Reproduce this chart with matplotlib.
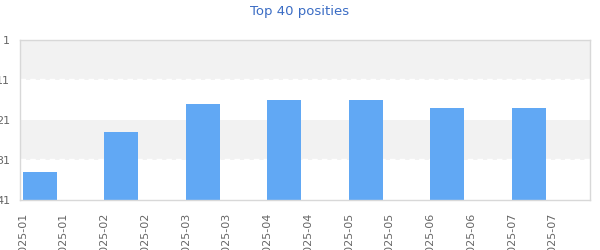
import matplotlib.pyplot as plt
import numpy as np

months = ['2025-01', '2025-02', '2025-03', '2025-04', '2025-05', '2025-06', '2025-07']
positions = [34, 24, 17, 16, 16, 18, 18]
tick_labels = [m for m in months for _ in range(2)]
y_ticks = [1, 11, 21, 31, 41]

fig = plt.figure(figsize=(6, 2.5), dpi=100)
ax = fig.add_axes([20 / 600, 50 / 250, 570 / 600, 160 / 250])

# alternating bands, dashed grid line on the lower edge of each grey band
for lo, hi in [(1, 11), (21, 31)]:
    ax.axhspan(lo, hi, color='#f2f2f2', lw=0, zorder=0)
    ax.axhline(hi - 0.15, color='white', lw=1, ls=(0, (4, 3)), zorder=1)

x = np.arange(len(months))
vals = np.array(positions)
ax.bar(x, 41 - vals, bottom=vals, width=0.417, color='#61a8f4', zorder=2)

ax.set_xlim(-0.245, 6.75)
ax.set_ylim(41, 1)

ax.set_yticks(y_ticks)
ax.set_yticklabels([str(v) for v in y_ticks])
ax.set_xticks(-0.21 + 0.5 * np.arange(len(tick_labels)))
ax.set_xticklabels(tick_labels, rotation=90, va='top', ha='center')
ax.tick_params(axis='y', length=0, pad=7, labelsize=8, labelcolor='#666666')
ax.tick_params(axis='x', length=0, pad=9, labelsize=8, labelcolor='#666666')

for s in ax.spines.values():
    s.set_color('#d8d8d8')
    s.set_linewidth(1)

fig.text(0.5, 1 - 12 / 250, 'Top 40 posities', ha='center', va='center',
         fontsize=9.5, color='#3a6cc4')

plt.savefig('out.png', dpi=100)
plt.close()
